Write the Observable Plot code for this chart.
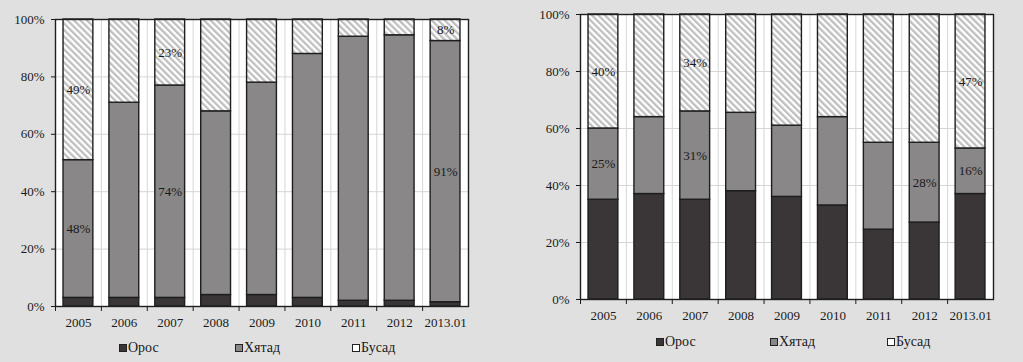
<!DOCTYPE html>
<html><head><meta charset="utf-8">
<script src="https://cdn.jsdelivr.net/npm/d3@7"></script>
<script src="https://cdn.jsdelivr.net/npm/@observablehq/plot@0.6"></script>
<style>
body{margin:0;background:#e0e0e0;width:1023px;height:362px;overflow:hidden;font-family:"Liberation Serif","Times New Roman",serif;position:relative;}
.panel{position:absolute;top:0;}
.legend{position:absolute;display:flex;align-items:center;font-size:14px;color:#1a1a1a;line-height:15px;height:15px;}
.sw{width:6px;height:6px;border:1.5px solid #222;margin-right:1px;}
</style></head><body>
<svg width="0" height="0" style="position:absolute"><defs>
<pattern id="hatch" patternUnits="userSpaceOnUse" width="4.6" height="4.6" patternTransform="rotate(-45)">
<rect width="4.6" height="4.6" fill="#ffffff"/><rect width="2.3" height="4.6" fill="#bfbfbf"/>
</pattern></defs></svg>
<div id="left" class="panel" style="left:0px"></div>
<div id="right" class="panel" style="left:510px"></div>
<div id="legendLeft"></div>
<div id="legendRight"></div>
<script>
const years = ["2005","2006","2007","2008","2009","2010","2011","2012","2013.01"];
const seriesNames = ["Орос","Хятад","Бусад"];
const seriesColors = ["#3a3637","#898787","url(#hatch)"];
const swatchColors = ["#3a3637","#898787","#ffffff"];
const yTicks = [0,20,40,60,80,100];

// Left panel
const leftRussia = [3,3,3,4,4,3,2,2,1.5];
const leftChina  = [48,68,74,64,74,85,92,92.5,91];
const leftOther  = [49,29,23,32,22,12,6,5.5,7.5];
const leftLabels = [["2005","Хятад"],["2005","Бусад"],["2007","Хятад"],["2007","Бусад"],["2013.01","Хятад"],["2013.01","Бусад"]];

// Right panel
const rightRussia = [35,37,35,38,36,33,24.5,27,37];
const rightChina  = [25,27,31,27.5,25,31,30.5,28,16];
const rightOther  = [40,36,34,34.5,39,36,45,45,47];
const rightLabels = [["2005","Хятад"],["2005","Бусад"],["2007","Хятад"],["2007","Бусад"],["2012","Хятад"],["2013.01","Хятад"],["2013.01","Бусад"]];

function toRows(a, b, c, labels) {
  const rows = [];
  years.forEach((yr, i) => {
    [a, b, c].forEach((arr, j) => {
      const s = seriesNames[j];
      const lab = labels.some(l => l[0] === yr && l[1] === s);
      rows.push({year: yr, series: s, value: arr[i], label: lab ? Math.round(arr[i]) + "%" : undefined});
    });
  });
  return rows;
}

function chart(rows, o) {
  const step = (o.width - o.marginLeft - o.marginRight) / years.length;
  return Plot.plot({
    width: o.width, height: o.height,
    marginLeft: o.marginLeft, marginRight: o.marginRight, marginTop: o.marginTop, marginBottom: o.marginBottom,
    style: {background: "transparent", fontFamily: "'Liberation Serif', serif", fontSize: "13px", color: "#1a1a1a", overflow: "visible"},
    x: {domain: years, paddingInner: 0.35, paddingOuter: 0.175, round: false, label: null, axis: null},
    y: {domain: [0, 100], label: null, axis: null},
    color: {domain: seriesNames, range: seriesColors},
    marks: [
      Plot.frame({fill: "white", stroke: "none"}),
      Plot.gridY({ticks: yTicks, stroke: "#d6d6d6", strokeOpacity: 1}),
      Plot.gridX({stroke: "#d6d6d6", strokeOpacity: 1, dx: -step / 2}),
      Plot.barY(rows, {x: "year", y: "value", fill: "series", stroke: "#1e1e1e", strokeWidth: 1.4}),
      Plot.text(rows, Plot.stackY({x: "year", y: "value", z: "series", text: "label", fontSize: 13, fill: "#1a1a1a"})),
      Plot.frame({stroke: "#1e1e1e", strokeWidth: 1.4}),
      Plot.axisY({ticks: yTicks, tickFormat: d => d + "%", tickSize: 4, tickPadding: 7, fontSize: 13}),
      Plot.axisX({tickSize: 0, tickPadding: 11, fontSize: 13}),
      Plot.axisX({tickSize: 5, tickFormat: () => "", dx: -step / 2})
    ]
  });
}

document.getElementById("left").append(chart(toRows(leftRussia, leftChina, leftOther, leftLabels),
  {width: 505, height: 332, marginLeft: 55, marginRight: 37, marginTop: 19, marginBottom: 26}));
document.getElementById("right").append(chart(toRows(rightRussia, rightChina, rightOther, rightLabels),
  {width: 500, height: 325, marginLeft: 70, marginRight: 17, marginTop: 14, marginBottom: 26}));

function legend(containerId, lefts, top) {
  const c = document.getElementById(containerId);
  seriesNames.forEach((s, i) => {
    const d = document.createElement("div");
    d.className = "legend";
    d.style.left = lefts[i] + "px";
    d.style.top = top + "px";
    const sw = document.createElement("span");
    sw.className = "sw";
    sw.style.background = swatchColors[i];
    d.append(sw, document.createTextNode(s));
    c.append(d);
  });
}
legend("legendLeft", [119, 235, 352], 340);
legend("legendRight", [656, 770, 887], 334);
</script>
</body></html>
